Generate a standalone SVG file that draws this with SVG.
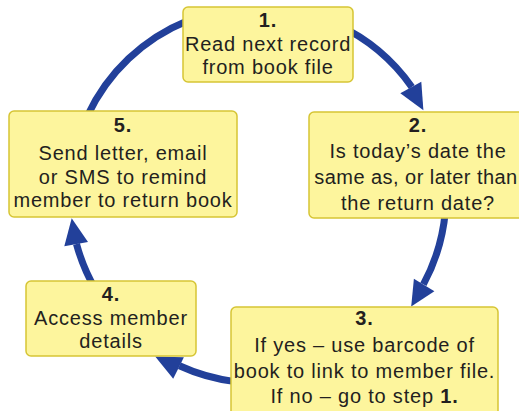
<svg xmlns="http://www.w3.org/2000/svg" width="519" height="411" viewBox="0 0 519 411">
  <style>
    .box { fill: #fdf59d; stroke: #d6c535; stroke-width: 1.5; }
    .lbl { font-family: "Liberation Sans", Arial, sans-serif; font-size: 20px; fill: #231f20; text-anchor: middle; letter-spacing: 0.8px; }
    .tight { letter-spacing: 0.45px; }
    .num { font-weight: bold; }
    .arc { fill: none; stroke: #22409a; stroke-width: 7; }
    .head { fill: #22409a; }
  </style>

  <!-- circular flow: arcs of one circle (centre 258,195; r 188) -->
  <g id="connectors">
    <path class="arc" d="M87.6,115.6 A188,188 0 0 1 187.6,20.7"/>
    <path class="arc" d="M337.4,24.6 A188,188 0 0 1 411.8,86.9"/>
    <polygon class="head" points="423.4,110.3 421.3,81.7 400.3,93.3"/>
    <path class="arc" d="M445.3,211.4 A188,188 0 0 1 423.4,284.4"/>
    <polygon class="head" points="411.2,306.4 434.4,291.2 413.9,278.8"/>
    <path class="arc" d="M235.1,381.6 A188,188 0 0 1 179.4,365.8"/>
    <polygon class="head" points="155.2,356.4 183.9,357.3 173.2,378.7"/>
    <path class="arc" d="M95.2,289 A188,188 0 0 1 76.5,244"/>
    <polygon class="head" points="71.7,218.3 88,242.1 64.3,246.2"/>
  </g>

  <g id="step1">
    <rect class="box" x="183" y="7" width="170" height="75" rx="5"/>
    <text class="lbl num" x="268" y="27">1.</text>
    <text class="lbl" x="268" y="50.5">Read next record</text>
    <text class="lbl" x="268" y="73.5">from book file</text>
  </g>

  <g id="step2">
    <rect class="box" x="309" y="112" width="220" height="106" rx="5"/>
    <text class="lbl num" x="418" y="131.5">2.</text>
    <text class="lbl" x="418" y="157.5">Is today’s date the</text>
    <text class="lbl tight" x="416" y="183.5">same as, or later than</text>
    <text class="lbl" x="418" y="209.5">the return date?</text>
  </g>

  <g id="step3">
    <rect class="box" x="231" y="307" width="267" height="115" rx="5"/>
    <text class="lbl num" x="364.5" y="325">3.</text>
    <text class="lbl" x="364.5" y="352">If yes – use barcode of</text>
    <text class="lbl" x="364.5" y="377.5">book to link to member file.</text>
    <text class="lbl" x="364.5" y="403">If no – go to step <tspan class="num">1.</tspan></text>
  </g>

  <g id="step4">
    <rect class="box" x="26" y="281" width="170" height="75" rx="5"/>
    <text class="lbl num" x="111" y="300.5">4.</text>
    <text class="lbl" x="111" y="325">Access member</text>
    <text class="lbl" x="111" y="347.5">details</text>
  </g>

  <g id="step5">
    <rect class="box" x="9" y="111" width="228" height="106" rx="5"/>
    <text class="lbl num" x="123" y="132">5.</text>
    <text class="lbl" x="123" y="160">Send letter, email</text>
    <text class="lbl" x="123" y="183.5">or SMS to remind</text>
    <text class="lbl" x="123" y="206.5">member to return book</text>
  </g>
</svg>
